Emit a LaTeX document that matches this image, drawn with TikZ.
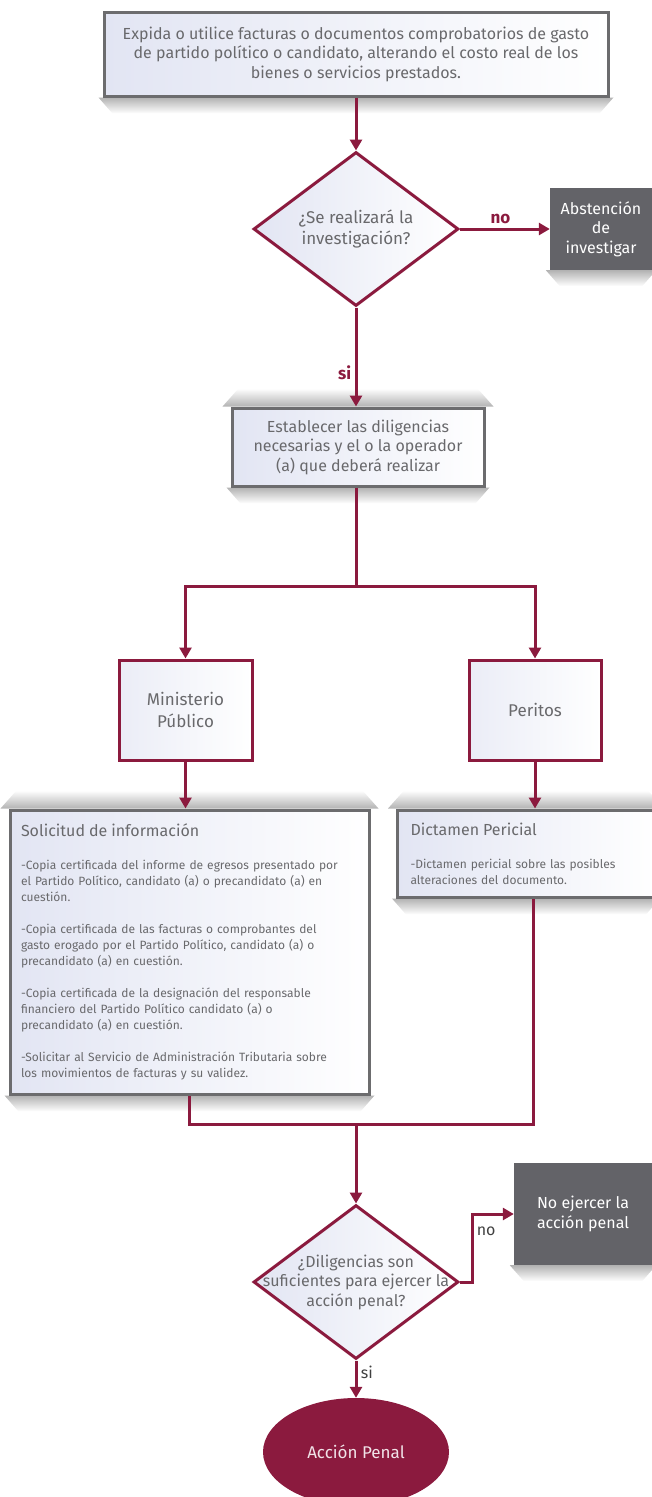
\documentclass[tikz,border=0pt]{standalone}
\usepackage{fontspec}
\setmainfont{Fira Sans}
\usetikzlibrary{arrows.meta, calc, positioning, shapes.geometric, backgrounds}
\definecolor{guinda}{RGB}{139,26,62}
\definecolor{boxgray}{RGB}{108,108,110}
\definecolor{darkfill}{RGB}{99,99,104}
\definecolor{textgray}{RGB}{105,105,108}
\definecolor{lavender}{RGB}{226,229,243}

\begin{document}
\begin{tikzpicture}[x=1pt, y=-1pt,
    graybox/.style={draw=boxgray, line width=3pt, left color=lavender, right color=white, text=textgray, align=center, inner sep=0pt, font=\fontsize{16}{19.5}\selectfont},
    redbox/.style={draw=guinda, line width=3pt, left color=lavender!70, right color=white, text=textgray, align=center, minimum width=133pt, minimum height=100pt, font=\fontsize{17}{22}\selectfont},
    darkbox/.style={fill=darkfill, text=white, align=center, font=\fontsize{16}{19.5}\selectfont},
    decision/.style={diamond, draw=guinda, line width=3pt, left color=lavender, right color=white, text=textgray, align=center, minimum width=205pt, minimum height=154pt, inner sep=0pt, font=\fontsize{17}{21}\selectfont},
    arrow/.style={-{Triangle[length=11pt, width=12pt]}, draw=guinda, line width=3pt},
    line/.style={draw=guinda, line width=3pt},
    lbl/.style={text=guinda, font=\bfseries\fontsize{17}{20}\selectfont},
    plainlbl/.style={text=black!75, font=\fontsize{16}{20}\selectfont}
]
\useasboundingbox (0,0) rectangle (652,1497);

% Start
\node[graybox, minimum width=504pt, minimum height=84pt] (top) at (356,54)
  {Expida o utilice facturas o documentos comprobatorios de gasto\\
   de partido político o candidato, alterando el costo real de los\\
   bienes o servicios prestados.};

% First decision
\node[decision] (dec1) at (356,229) {¿Se realizará la\\investigación?};
\node[darkbox, minimum width=102pt, minimum height=82pt] (abst) at (601,229) {Abstención\\de\\investigar};

% Diligencias
\node[graybox, minimum width=252pt, minimum height=78pt] (est) at (358,447)
  {Establecer las diligencias\\necesarias y el o la operador\\(a) que deberá realizar};
\coordinate (split) at (356,586);

% Operators
\node[redbox] (mp) at (185.5,710) {Ministerio\\Público};
\node[redbox, minimum width=132pt] (per) at (535,710) {Peritos};

% Details
\node[graybox, minimum width=359pt, minimum height=284pt, text width=337pt, align=left, font=\fontsize{12}{16}\selectfont] (sol) at (189.5,952)
  {{\fontsize{16}{16}\selectfont Solicitud de información}\\[17pt]
   -Copia certificada del informe de egresos presentado por\\
   el Partido Político, candidato (a) o precandidato (a) en\\
   cuestión.\\[16pt]
   -Copia certificada de las facturas o comprobantes del\\
   gasto erogado por el Partido Político, candidato (a) o\\
   precandidato (a) en cuestión.\\[16pt]
   -Copia certificada de la designación del responsable\\
   financiero del Partido Político candidato (a) o\\
   precandidato (a) en cuestión.\\[16pt]
   -Solicitar al Servicio de Administración Tributaria sobre\\
   los movimientos de facturas y su validez.};
\node[graybox, minimum width=257pt, minimum height=87pt, text width=231pt, align=left, font=\fontsize{12}{16}\selectfont] (dict) at (526,853.5)
  {{\fontsize{16}{16}\selectfont Dictamen Pericial}\\[17pt]
   -Dictamen pericial sobre las posibles\\
   alteraciones del documento.};
\coordinate (merge) at (356,1124);

% Second decision
\node[decision] (dec2) at (356,1282) {};
\node[text=textgray, align=center, font=\fontsize{16}{19.5}\selectfont] (dec2txt) at (dec2) {¿Diligencias son\\suficientes para ejercer la\\acción penal?};
\node[darkbox, minimum width=138pt, minimum height=102pt] (noej) at (583,1214) {No ejercer la\\acción penal};
\node[ellipse, fill=guinda, text=white!88!guinda, minimum width=186pt, minimum height=108pt, font=\fontsize{17}{20}\selectfont] (acc) at (356,1452) {Acción Penal};

% Shadows
\begin{scope}[on background layer]
\foreach \n in {est, sol, dict} {
  \shade[top color=white, bottom color=black!30] ($(\n.north west)+(-8,0)$) -- ($(\n.north west)+(8,-18)$) -- ($(\n.north east)+(-8,-18)$) -- ($(\n.north east)+(8,0)$) -- cycle;
}
\foreach \n in {top, est, sol, dict, abst, noej} {
  \shade[top color=black!30, bottom color=white] ($(\n.south west)+(-4,0)$) -- ($(\n.south west)+(10,16)$) -- ($(\n.south east)+(-10,16)$) -- ($(\n.south east)+(4,0)$) -- cycle;
}
\end{scope}

% Arrows
\draw[arrow] (top) -- (dec1);
\draw[arrow] (dec1) -- node[above, lbl, pos=0.45] {no} (abst);
\draw[arrow] (dec1.south) -- node[left, lbl, pos=0.66] {si} (dec1.south |- est.north);
\draw[line] (split |- est.south) -- (split);
\draw[arrow] (split) -| (mp);
\draw[arrow] (split) -| (per);
\draw[arrow] (mp.south) -- (mp.south |- sol.north);
\draw[arrow] (per.south) -- (per.south |- dict.north);
\draw[line] (sol.south) |- (merge) -| ($(dict.south)+(7,0)$);
\draw[arrow] (merge) -- (dec2);
\draw[arrow] (dec2.east) -- ++(12,0) |- node[right, plainlbl, pos=0.37] {no} (noej.west);
\draw[arrow] (dec2) -- node[right, plainlbl, pos=0.33] {si} (acc);

\end{tikzpicture}
\end{document}
